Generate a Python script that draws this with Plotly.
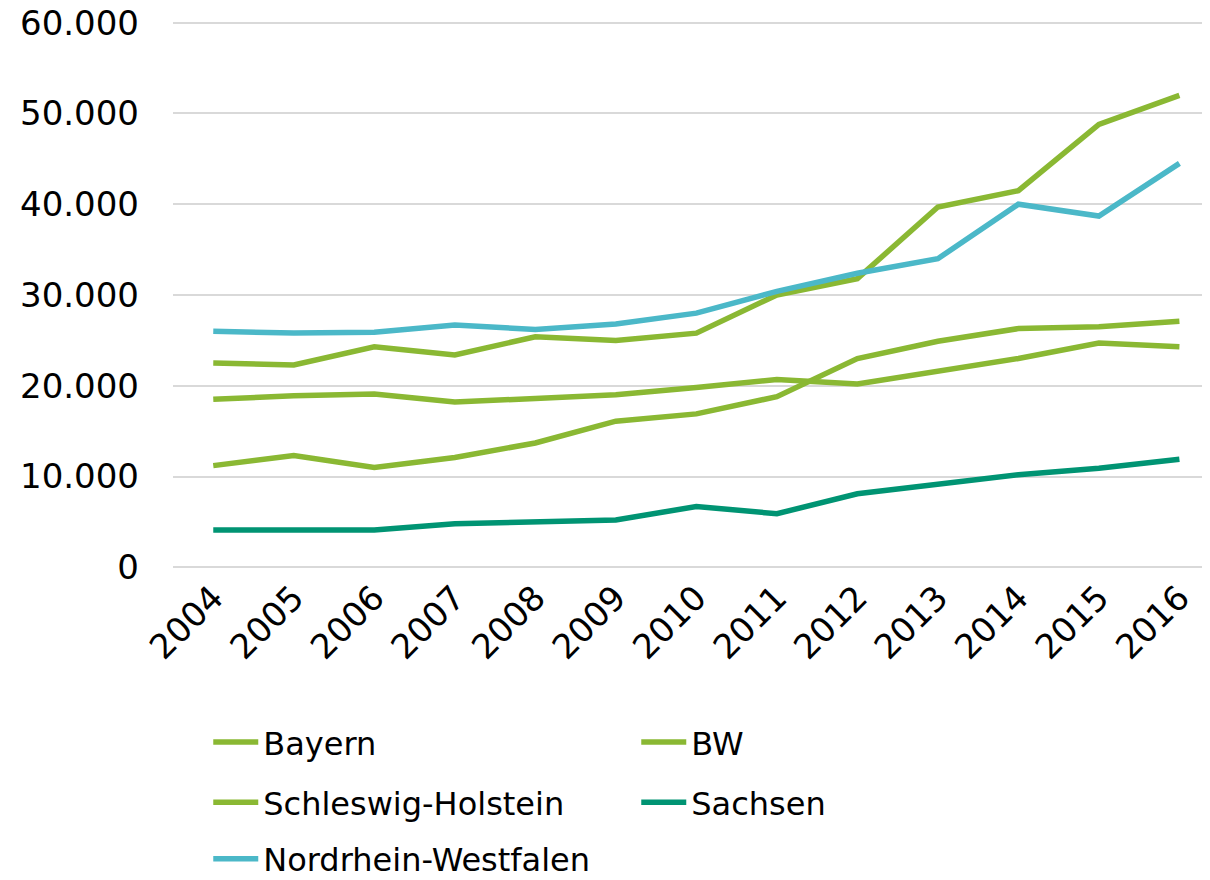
import plotly.graph_objects as go

# Jahre und Werte je Bundesland
jahre = ['2004', '2005', '2006', '2007', '2008', '2009', '2010',
         '2011', '2012', '2013', '2014', '2015', '2016']
bayern = [22500, 22300, 24300, 23400, 25400, 25000, 25800,
          30000, 31800, 39700, 41500, 48800, 52000]
bw = [11200, 12300, 11000, 12100, 13700, 16100, 16900,
      18800, 23000, 24900, 26300, 26500, 27100]
schleswig_holstein = [18500, 18900, 19100, 18200, 18600, 19000, 19800,
                      20700, 20200, 21600, 23000, 24700, 24300]
sachsen = [4100, 4100, 4100, 4800, 5000, 5200, 6700,
           5900, 8100, 9200, 10200, 10900, 11900]
nrw = [26000, 25800, 25900, 26700, 26200, 26800, 28000,
       30400, 32400, 34000, 40000, 38700, 44500]

namen = ['Bayern', 'BW', 'Schleswig-Holstein', 'Sachsen', 'Nordrhein-Westfalen']
reihen = [bayern, bw, schleswig_holstein, sachsen, nrw]
farben = ['#8ab833', '#8ab833', '#8ab833', '#009473', '#4bb8c8']
# jede Legendenzeile ist eine eigene Legende (2 Spalten)
legenden = ['legend', 'legend', 'legend2', 'legend2', 'legend3']

fig = go.Figure()
for name, werte, farbe, leg in zip(namen, reihen, farben, legenden):
    fig.add_trace(go.Scatter(x=jahre, y=werte, name=name, mode='lines',
                             line=dict(color=farbe, width=5.5), legend=leg))

def zeile(y):
    return dict(orientation='h', xref='paper', x=0.034, xanchor='left',
                yref='container', y=y, yanchor='middle',
                entrywidth=368, itemwidth=45, traceorder='normal',
                font=dict(family='DejaVu Sans', size=32, color='black'))

fig.update_layout(
    width=1202, height=872,
    margin=dict(l=165, r=0, t=12, b=310),
    paper_bgcolor='white', plot_bgcolor='white',
    separators=',.',
    font=dict(family='DejaVu Sans, sans-serif', size=34, color='black'),
    xaxis=dict(type='category', range=[-0.5, 12.38], tickangle=-45,
               showgrid=False, showline=False, ticks='', automargin=False),
    yaxis=dict(range=[-300, 60300], tickvals=[0, 10000, 20000, 30000, 40000, 50000, 60000],
               tickformat=',d', ticklabeloverflow='allow', automargin=False,
               showgrid=True, gridcolor='#d9d9d9', gridwidth=2,
               zeroline=False, showline=False, ticklabelstandoff=33),
    legend=zeile(0.158),
    legend2=zeile(0.089),
    legend3=zeile(0.024),
    showlegend=True,
)

fig.write_html('out.html')
